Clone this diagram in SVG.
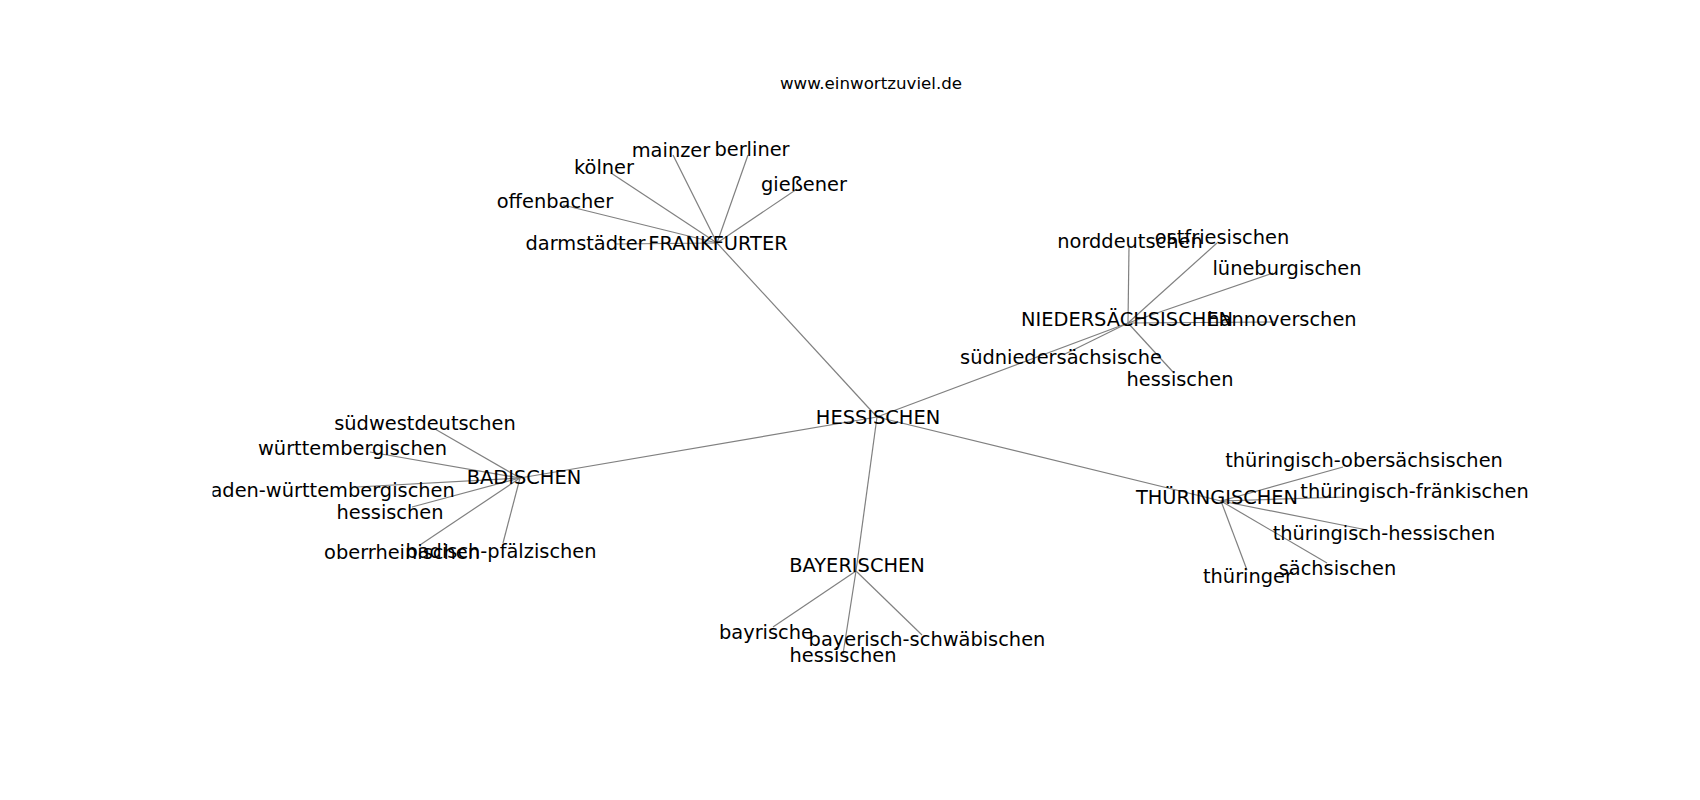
<svg xmlns="http://www.w3.org/2000/svg" width="1700" height="800" viewBox="0 0 1700 800">
<style>
.e{stroke:#808080;stroke-width:1.2;fill:none}
.l{font-family:"DejaVu Sans",sans-serif;font-size:19.4px;fill:#000;text-anchor:middle}
.t{font-family:"DejaVu Sans",sans-serif;font-size:16.67px;fill:#000;text-anchor:middle}
</style>
<defs>
<clipPath id="ax"><rect x="212.5" y="96" width="1317.5" height="608"/></clipPath>
</defs>
<rect width="1700" height="800" fill="#fff"/>
<text class="t" x="871" y="89">www.einwortzuviel.de</text>
<g id="edges">
<line class="e" x1="877" y1="417" x2="717" y2="243"/>
<line class="e" x1="877" y1="417" x2="520" y2="478"/>
<line class="e" x1="877" y1="417" x2="1128" y2="323"/>
<line class="e" x1="877" y1="417" x2="1221" y2="501"/>
<line class="e" x1="877" y1="417" x2="856" y2="571"/>
<line class="e" x1="717" y1="243" x2="615" y2="244"/>
<line class="e" x1="717" y1="243" x2="563" y2="205"/>
<line class="e" x1="717" y1="243" x2="611" y2="173"/>
<line class="e" x1="717" y1="243" x2="673" y2="155"/>
<line class="e" x1="717" y1="243" x2="748" y2="155"/>
<line class="e" x1="717" y1="243" x2="797" y2="189"/>
<line class="e" x1="520" y1="478" x2="435" y2="429"/>
<line class="e" x1="520" y1="478" x2="370" y2="452"/>
<line class="e" x1="520" y1="478" x2="357" y2="487"/>
<line class="e" x1="520" y1="478" x2="412" y2="507"/>
<line class="e" x1="520" y1="478" x2="420" y2="545"/>
<line class="e" x1="520" y1="478" x2="503" y2="543"/>
<line class="e" x1="856" y1="571" x2="773" y2="627"/>
<line class="e" x1="856" y1="571" x2="922" y2="635"/>
<line class="e" x1="856" y1="571" x2="843" y2="654"/>
<line class="e" x1="1128" y1="323" x2="1129" y2="247"/>
<line class="e" x1="1128" y1="323" x2="1217" y2="243"/>
<line class="e" x1="1128" y1="323" x2="1273" y2="273"/>
<line class="e" x1="1128" y1="323" x2="1275" y2="322"/>
<line class="e" x1="1128" y1="323" x2="1065" y2="354"/>
<line class="e" x1="1128" y1="323" x2="1173" y2="372"/>
<line class="e" x1="1221" y1="501" x2="1343" y2="467"/>
<line class="e" x1="1221" y1="501" x2="1345" y2="497"/>
<line class="e" x1="1221" y1="501" x2="1367" y2="530"/>
<line class="e" x1="1221" y1="501" x2="1327" y2="563"/>
<line class="e" x1="1221" y1="501" x2="1247" y2="570"/>
</g>
<g clip-path="url(#ax)">
<g id="n-hessischen"><text class="l" x="878" y="424">HESSISCHEN</text></g>
<g id="n-frankfurter"><text class="l" x="718" y="250">FRANKFURTER</text></g>
<g id="n-darmstaedter"><text class="l" x="585.5" y="250">darmstädter</text></g>
<g id="n-offenbacher"><text class="l" x="555" y="208">offenbacher</text></g>
<g id="n-koelner"><text class="l" x="604" y="174">kölner</text></g>
<g id="n-mainzer"><text class="l" x="671" y="157">mainzer</text></g>
<g id="n-berliner"><text class="l" x="752" y="156">berliner</text></g>
<g id="n-giessener"><text class="l" x="804" y="191">gießener</text></g>
<g id="n-badischen"><text class="l" x="524" y="484">BADISCHEN</text></g>
<g id="n-suedwestdeutschen"><text class="l" x="425" y="430">südwestdeutschen</text></g>
<g id="n-wuerttembergischen"><text class="l" x="352.5" y="455">württembergischen</text></g>
<g id="n-baden-wuerttembergischen"><text class="l" x="326.5" y="497">baden-württembergischen</text></g>
<g id="n-hessischen-bad"><text class="l" x="390" y="519">hessischen</text></g>
<g id="n-oberrheinischen"><text class="l" x="402" y="559">oberrheinischen</text></g>
<g id="n-badisch-pfaelzischen"><text class="l" x="501" y="558">badisch-pfälzischen</text></g>
<g id="n-bayerischen"><text class="l" x="857" y="572">BAYERISCHEN</text></g>
<g id="n-bayrische"><text class="l" x="766" y="639">bayrische</text></g>
<g id="n-bayerisch-schwaebischen"><text class="l" x="927" y="646">bayerisch-schwäbischen</text></g>
<g id="n-hessischen-bay"><text class="l" x="843" y="662">hessischen</text></g>
<g id="n-niedersaechsischen"><text class="l" x="1127" y="326">NIEDERSÄCHSISCHEN</text></g>
<g id="n-norddeutschen"><text class="l" x="1130" y="248">norddeutschen</text></g>
<g id="n-ostfriesischen"><text class="l" x="1222" y="244">ostfriesischen</text></g>
<g id="n-lueneburgischen"><text class="l" x="1287" y="275">lüneburgischen</text></g>
<g id="n-hannoverschen"><text class="l" x="1282" y="326">hannoverschen</text></g>
<g id="n-suedniedersaechsische"><text class="l" x="1061" y="364">südniedersächsische</text></g>
<g id="n-hessischen-nie"><text class="l" x="1180" y="386">hessischen</text></g>
<g id="n-thueringischen"><text class="l" x="1217" y="504">THÜRINGISCHEN</text></g>
<g id="n-th-obersaechsischen"><text class="l" x="1364" y="467">thüringisch-obersächsischen</text></g>
<g id="n-th-fraenkischen"><text class="l" x="1414.5" y="498">thüringisch-fränkischen</text></g>
<g id="n-th-hessischen"><text class="l" x="1384" y="540">thüringisch-hessischen</text></g>
<g id="n-saechsischen"><text class="l" x="1337.5" y="575">sächsischen</text></g>
<g id="n-thueringer"><text class="l" x="1248" y="583">thüringer</text></g>
</g>
</svg>
